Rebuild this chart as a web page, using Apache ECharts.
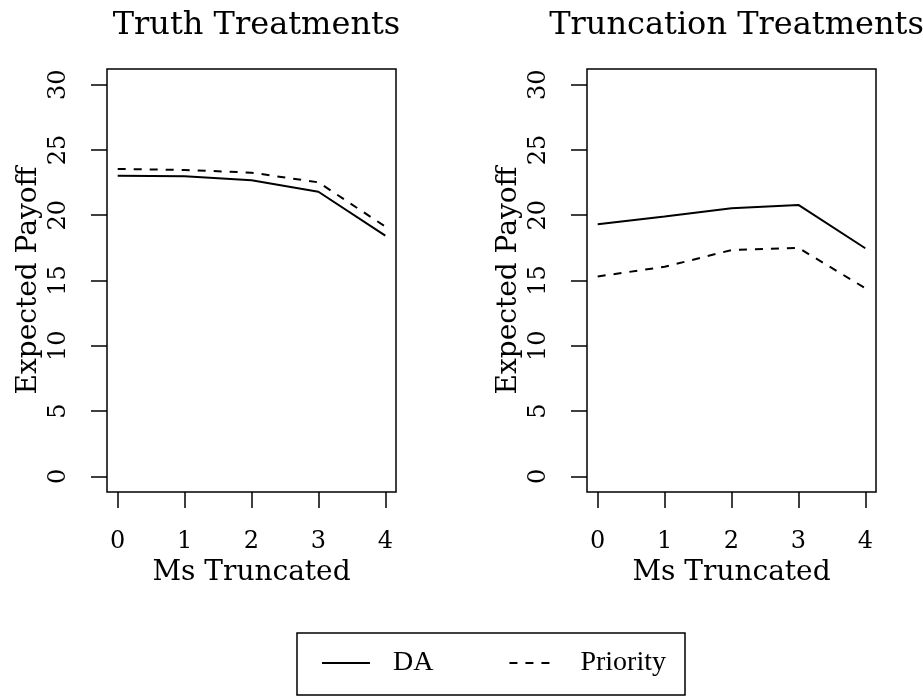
<!DOCTYPE html>
<html>
<head>
<meta charset="utf-8">
<script src="https://cdn.jsdelivr.net/npm/echarts@6/dist/echarts.min.js"></script>
<style>
  html, body { margin: 0; padding: 0; background: #fff; }
  #chart { width: 923px; height: 696px; }
</style>
</head>
<body>
<div id="chart"></div>
<script>
// Number of Ms truncated (x positions shared by both panels)
const msTruncated = [0, 1, 2, 3, 4];
const xTicks = [0, 1, 2, 3, 4];
const yTicks = [0, 5, 10, 15, 20, 25, 30];

// Truth treatments
const truthDA = [23.03, 22.98, 22.68, 21.80, 18.44];
const truthPriority = [23.54, 23.47, 23.26, 22.52, 19.13];

// Truncation treatments
const truncDA = [19.31, 19.90, 20.53, 20.79, 17.47];
const truncPriority = [15.31, 16.05, 17.33, 17.50, 14.41];

const panelTitles = ['Truth Treatments', 'Truncation Treatments'];
const seriesNames = ['DA', 'Priority'];

const serif = '"DejaVu Serif", serif';
const times = '"Liberation Serif", "Times New Roman", serif';

const pairs = (ys) => msTruncated.map((x, i) => [x, ys[i]]);

const panelLeft = [107, 587];
const panelWidth = 289;

function xAxisFor(i) {
  return {
    gridIndex: i, type: 'value', min: -0.16, max: 4.16,
    name: 'Ms Truncated', nameLocation: 'middle', nameGap: 63,
    nameTextStyle: { fontFamily: serif, fontSize: 28, color: '#000' },
    axisLine: { show: false, onZero: false },
    axisTick: { show: true, inside: false, length: 16, customValues: xTicks,
                lineStyle: { color: '#000', width: 1.5 } },
    axisLabel: { customValues: xTicks, margin: 38, fontFamily: serif, fontSize: 24, color: '#000' },
    splitLine: { show: false }
  };
}
function yAxisFor(i) {
  return {
    gridIndex: i, type: 'value', min: -1.2, max: 31.2,
    name: 'Expected Payoff', nameLocation: 'middle', nameGap: 64,
    nameTextStyle: { fontFamily: serif, fontSize: 28, color: '#000' },
    axisLine: { show: false, onZero: false },
    axisTick: { show: true, inside: false, length: 16, customValues: yTicks,
                lineStyle: { color: '#000', width: 1.5 } },
    axisLabel: { customValues: yTicks, rotate: 90, margin: 36, fontFamily: serif, fontSize: 24, color: '#000' },
    splitLine: { show: false }
  };
}
function lineSeries(name, data, i, dashed) {
  return {
    name, type: 'line', xAxisIndex: i, yAxisIndex: i, data: pairs(data),
    symbol: 'none', animation: false, silent: true,
    itemStyle: { color: '#000' },
    lineStyle: { color: '#000', width: 2, type: dashed ? [8, 8] : 'solid' }
  };
}

const chart = echarts.init(document.getElementById('chart'), null, { renderer: 'canvas' });
chart.setOption({
  backgroundColor: '#fff',
  animation: false,
  title: panelTitles.map((t, i) => ({
    text: t, left: panelLeft[i] + panelWidth / 2, top: 5, textAlign: 'center',
    textStyle: { fontFamily: serif, fontSize: 32, fontWeight: 'normal', color: '#000' }
  })),
  grid: panelLeft.map(l => ({
    left: l, width: panelWidth, top: 69, height: 423, show: true,
    borderColor: '#000', borderWidth: 1.5, backgroundColor: 'transparent', containLabel: false
  })),
  xAxis: [xAxisFor(0), xAxisFor(1)],
  yAxis: [yAxisFor(0), yAxisFor(1)],
  legend: {
    data: seriesNames, left: 297, top: 633, orient: 'horizontal',
    padding: [16, 19, 18, 24], itemGap: 75, itemWidth: 48, itemHeight: 14,
    borderColor: '#000', borderWidth: 1.5, selectedMode: false,
    itemStyle: { opacity: 0 },
    textStyle: { fontFamily: times, fontSize: 28, color: '#000', lineHeight: 28, padding: [0, 0, 0, 18] }
  },
  series: [
    lineSeries(seriesNames[0], truthDA, 0, false),
    lineSeries(seriesNames[1], truthPriority, 0, true),
    lineSeries(seriesNames[0], truncDA, 1, false),
    lineSeries(seriesNames[1], truncPriority, 1, true)
  ]
});
</script>
</body>
</html>
